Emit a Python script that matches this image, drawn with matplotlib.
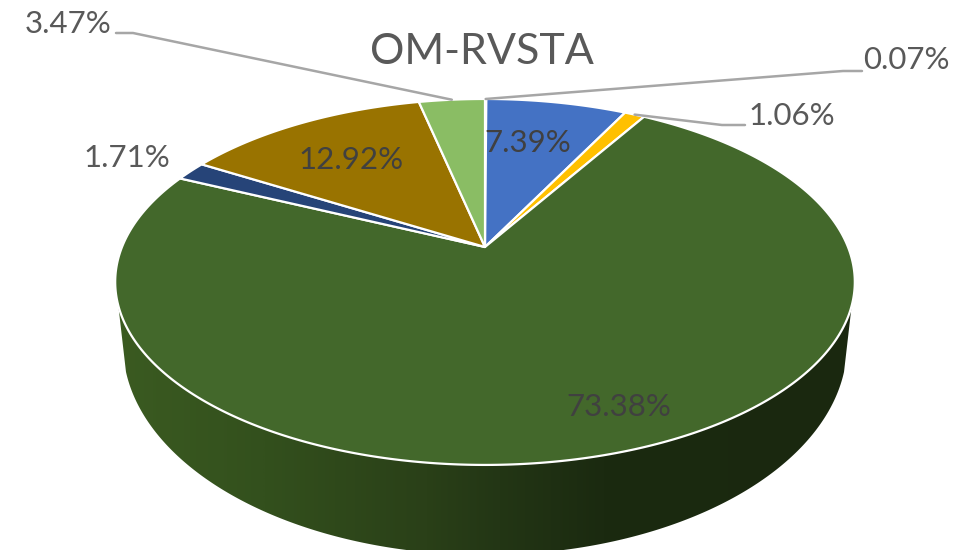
import numpy as np
import matplotlib
matplotlib.use("Agg")
import matplotlib.pyplot as plt
from matplotlib.colors import LinearSegmentedColormap
from matplotlib.patches import Polygon

title = "OM-RVSTA"
values = [0.07, 7.39, 1.06, 73.38, 1.71, 12.92, 3.47]
labels = ["0.07%", "7.39%", "1.06%", "73.38%", "1.71%", "12.92%", "3.47%"]
colors = ["#a5a5a5", "#4472c4", "#ffc000", "#43682b", "#264478", "#997300", "#8abd64"]

label_xy = [(906, 60), (528, 143), (792, 116), (619, 407), (127, 158), (351, 160), (68, 24)]
inside = [False, True, False, True, False, True, False]
leaders = {
    0: [(843, 71), (862, 71)],
    2: [(722, 125), (745, 125)],
    6: [(133, 33), (116, 33)],
}

plt.rcParams["font.family"] = ["Lato", "DejaVu Sans"]
fig = plt.figure(figsize=(9.67, 5.5), dpi=100)
ax = fig.add_axes([0, 0, 1, 1])
ax.set_xlim(0, 967)
ax.set_ylim(550, 0)
ax.axis("off")

CX, CY, K, D, C = 485.0, 247.0, 363.0, 176.3, 0.191


def project(theta):
    """Perspective view of a unit disc; theta is clockwise from 12 o'clock."""
    u, v = np.sin(theta), np.cos(theta)
    w = 1 + C * v
    return CX + K * u / w, CY - D * v / w


# side wall
t_top = np.linspace(0, 2 * np.pi, 1441)
xt, yt = project(t_top)
front = yt > 305
order = np.argsort(-xt[front])
top_arc = np.column_stack([xt[front][order], yt[front][order]])
BX, BY, BRX, BRY = 485.0, 345.0, 362.0, 210.0
s = np.linspace(np.arcsin(0.128), np.pi - np.arcsin(0.128), 400)
bot_arc = np.column_stack([BX + BRX * np.cos(s), BY + BRY * np.sin(s)])[::-1]
side_poly = np.vstack([top_arc, bot_arc])
cmap = LinearSegmentedColormap.from_list(
    "side",
    [(0.0, "#3b5b21"), (0.2, "#33501d"), (0.42, "#2a4018"),
     (0.52, "#233615"), (0.66, "#1b2a10"), (1.0, "#1a280f")],
)
img = ax.imshow(np.linspace(0, 1, 512)[None, :], cmap=cmap, aspect="auto",
                extent=(115, 855, 560, 290), zorder=1)
clip = Polygon(side_poly, transform=ax.transData, fc="none", ec="none")
ax.add_patch(clip)
img.set_clip_path(clip)
ax.set_xlim(0, 967)
ax.set_ylim(550, 0)

# top face
edges = np.cumsum([0] + values) / sum(values) * 2 * np.pi
mids = (edges[:-1] + edges[1:]) / 2
for i, col in enumerate(colors):
    th = np.linspace(edges[i], edges[i + 1], max(int(values[i] * 8), 4))
    x, y = project(th)
    ax.fill(np.r_[CX, x], np.r_[CY, y], fc=col, ec="white", lw=1.6,
            joinstyle="round", zorder=2)

# leaders
for i, pts in leaders.items():
    ax_, ay_ = project(mids[i])
    ax.plot([ax_] + [p[0] for p in pts], [ay_] + [p[1] for p in pts],
            color="#a6a6a6", lw=1.8, zorder=4, solid_capstyle="round")

# labels
for i, lab in enumerate(labels):
    ax.text(*label_xy[i], lab, ha="center", va="center", fontsize=22.5,
            color="#404040" if inside[i] else "#595959", zorder=5)
ax.text(482, 52, title, ha="center", va="center", fontsize=31, color="#595959", zorder=5)

fig.savefig("out.png", dpi=100, facecolor="white")
